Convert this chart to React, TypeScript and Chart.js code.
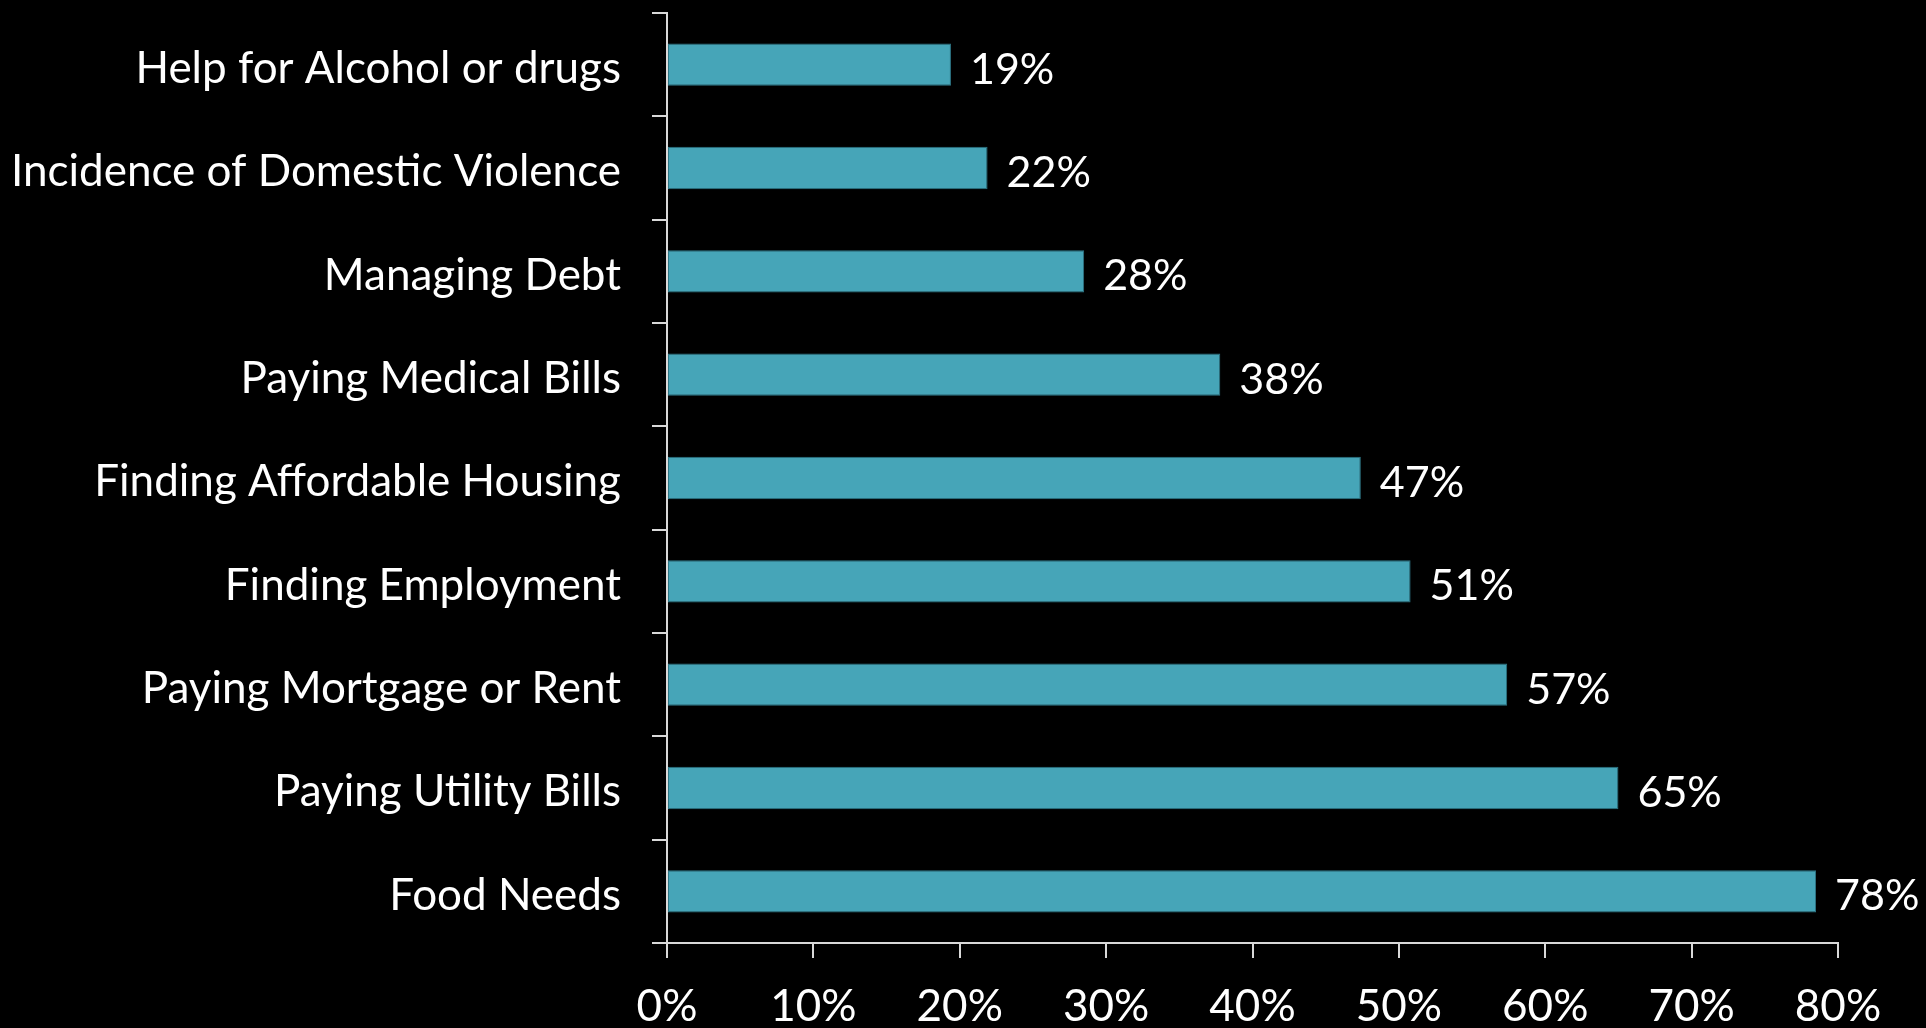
import React, { useEffect, useRef } from "react";
import Chart from "chart.js/auto";

const categories = [
  "Help for Alcohol or drugs",
  "Incidence of Domestic Violence",
  "Managing Debt",
  "Paying Medical Bills",
  "Finding Affordable Housing",
  "Finding Employment",
  "Paying Mortgage or Rent",
  "Paying Utility Bills",
  "Food Needs",
];
const values = [19.4, 21.9, 28.5, 37.8, 47.4, 50.8, 57.4, 65.0, 78.5];
const valueLabels = ["19%", "22%", "28%", "38%", "47%", "51%", "57%", "65%", "78%"];
const xTickStep = 10;
const xMax = 80;

const FONT = "Lato";
const FONT_SIZE = 44;

const labelPlugin = {
  id: "valueLabels",
  afterDatasetsDraw(chart: any) {
    const ctx = chart.ctx;
    const meta = chart.getDatasetMeta(0);
    ctx.save();
    ctx.fillStyle = "#ffffff";
    ctx.font = `${FONT_SIZE - 1}px ${FONT}`;
    ctx.textAlign = "left";
    ctx.textBaseline = "middle";
    meta.data.forEach((bar: any, i: number) => {
      ctx.fillText(valueLabels[i], bar.x + 19, bar.y + 5);
    });
    ctx.restore();
  },
};

export default function App() {
  const ref = useRef<HTMLCanvasElement | null>(null);
  useEffect(() => {
    document.body.style.margin = "0";
    document.body.style.background = "#000";
    const axisColor = "#d9d9d9";
    const chart = new Chart(ref.current as HTMLCanvasElement, {
      type: "bar",
      data: {
        labels: categories,
        datasets: [
          {
            data: values,
            backgroundColor: "#46a5b8",
            borderColor: "#2d7585",
            borderWidth: 1,
            borderSkipped: false,
            categoryPercentage: 1,
            barPercentage: 0.41,
          },
        ],
      },
      options: {
        indexAxis: "y",
        responsive: false,
        animation: false,
        maintainAspectRatio: false,
        layout: { padding: { top: 13, right: 88, left: 0, bottom: 0 } },
        plugins: { legend: { display: false }, tooltip: { enabled: false } },
        scales: {
          x: {
            min: 0,
            max: xMax,
            ticks: {
              stepSize: xTickStep,
              color: "#ffffff",
              font: { family: FONT, size: FONT_SIZE },
              padding: 22,
              callback: (v: any) => `${v}%`,
            },
            grid: {
              drawOnChartArea: false,
              drawTicks: true,
              tickLength: 15,
              color: axisColor,
              lineWidth: 2,
            },
            border: { display: true, color: axisColor, width: 2 },
            afterFit: (scale: any) => {
              scale.height = 85;
              scale.paddingLeft = 0;
              scale.paddingRight = 0;
            },
          },
          y: {
            ticks: {
              color: "#ffffff",
              font: { family: FONT, size: FONT_SIZE },
              padding: 31,
              labelOffset: 4,
            },
            grid: {
              drawOnChartArea: false,
              drawTicks: true,
              tickLength: 15,
              color: axisColor,
              lineWidth: 2,
            },
            border: { display: true, color: axisColor, width: 2 },
            afterFit: (scale: any) => {
              scale.width = 667;
              scale.paddingTop = 0;
              scale.paddingBottom = 0;
            },
          },
        },
      },
      plugins: [labelPlugin],
    });
    return () => chart.destroy();
  }, []);
  return (
    <div style={{ position: "fixed", left: 0, top: 0, width: 1926, height: 1028, background: "#000" }}>
      <canvas ref={ref} width={1926} height={1028} style={{ display: "block" }} />
    </div>
  );
}
